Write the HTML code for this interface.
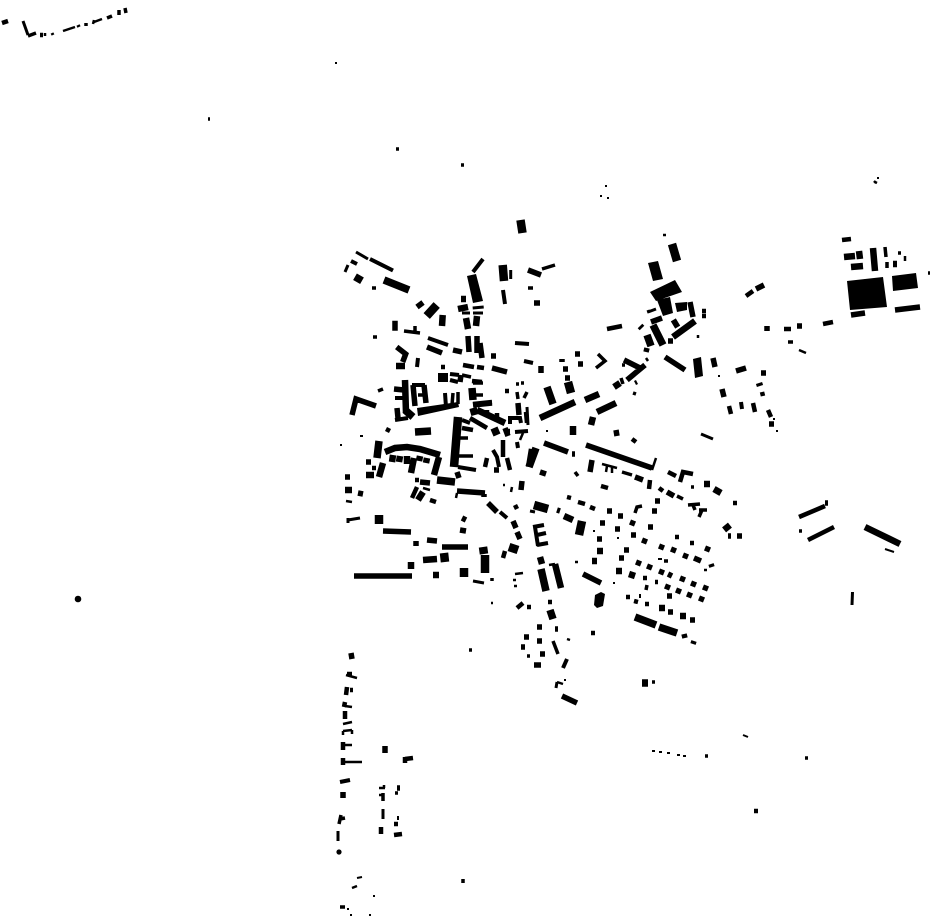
<!DOCTYPE html>
<html><head><meta charset="utf-8"><style>html,body{margin:0;padding:0;background:#fff}svg{display:block}path{fill:none;stroke:#000}path.f{fill:#000;stroke:none}</style></head>
<body><svg width="930" height="924" viewBox="0 0 930 924" xmlns="http://www.w3.org/2000/svg">
<path class="f" d="M467 276L476 274L482 297L483 301L473 303ZM648 263L658 261L663 279L653 281ZM650 292L675 280L682 292L656 301ZM657 300L670 297L673 313L663 316ZM675 303L687 302L687 310L677 312ZM693 359L701 357L703 376L695 378ZM847 281L883 277L887 307L850 310ZM892 276L916 273L918 288L893 291ZM595 595L601 592L605 594L603 606L597 608L594 605ZM417 408L458 402L459 407L418 416ZM438 373L448 373L448 382L438 382Z"/>
<circle cx="78" cy="599" r="3.3"/><circle cx="339" cy="852" r="2.6"/>
<path stroke-width="2" d="M335 63h2M605 186h2M600 196h2M607 198h2M877 178h2M340 445h2M593 531h2M613 583h2M546 431h2M360 436h3M658 559h4M640 594v4M718 376h2M497 458h2M776 431h2M773 419h2M357 878l5-1M347 909h2M350 915h2M369 915h2M373 896h2M652 751h3M659 752h3M667 753h3M677 755h3M683 756h3M743 735l5 2M885 549l9 3M617 538h2M564 680h2"/>
<path stroke-width="2.5" d="M346 675l11 3M345 706l7 1M343 724l9-2M344 745l8 0M343 762h19M379 788h6M384 785v3M379 795h5M352 888l5-2M343 731l9-1M343 731v4M352 730v4M63 31l12-4M93 24l1-4M94 22l8-3M45 33v3M704 570h3M423 488l7 2M346 501l6 1M602 464l15 4M607 466l-1 6M612 467v6M656 458l-4 12M575 562h3M567 639l3 1M457 493l-1 5M512 487l-1 5M503 485h2M549 565l6-1M513 580h3M514 586h3M491 603h2M557 682l6 2M799 350l7 3M905 256v5M875 182l2 1M698 335v3M646 358l2 3M663 235h3M874 181l2 2M515 574l8-1M525 412l1 11M523 433l-3 7"/>
<path stroke-width="3" d="M23 21l5 14M52 33l1 2M338 831v10M383 809v10M472.700 308l11-1M462 313h8M473 313h10M648 312l8-3M648 310l1 3M356 252l12 7M345 272l3-7M556 688l1-6M701 434l12 5M852.500 592l-.5 13M510.700 270v9M473 581l11 2M530 511l5 1M348 520l12-2M348 518v5M527 407l1 18"/>
<path stroke-width="3.500" d="M341 815l-2 9M340 819l5-1M340 907h5M395 793h3M373 337h4M372 288h4M378 391l5-2M28 36l8-3M78 25l1 2M86 23l0 3M107 18l5-2M119 15v-5M126 13l-1-5M404 331l16 2M415 326v6M516 384h3M521 383h3M517 392l1 7M527 392l-3 6M453 393l-1 12M458 392v12M598 354l7 7-9 7M621 378l2 6M575 472l3 4M633 393l3 1M885 247l1 10M887 262v6M898 253h3M928 273h3M788 342h5M542 269l13-4M528 288h5M622 365h3M691 487h3M688 505l12-1M693 505l2 5M702 510l-3 7M699 510h8M635 513l2-6 5-1M677 496l6 3M622 472l10 3M664 561h4M652 682h3M553 641l5 13M396 149h3M208 119h2M461 165h3M469 650h3M805 758h3M705 756h3M492 578v3M463 879v4M383 801v-8M527 656h3M647 585l-1 5M799 531h3M418 395h6M460 438h8M457 456h16M472 395h11M473 383h10M462 375l9 2M458 380h0"/>
<path stroke-width="4" d="M340 782l10-2M428 338l20 7M417 367l1-9M524 361l9 2M567 659l-4 9M397 818h2M515 343l14 1M741 402l1 7M351 261l6 3M370 259l23 11.500M473 272l10-13M503 290l2 14M450 374l9 1M450 380l8 2M412 385h13M445 393l1 14M510 424v-6h10l1 5M515 432l13-1M493 450l4 7 2 10M517 442l1 6M395 398h10M395 420l13-2"/>
<path stroke-width="4.500" d="M347 674h5M347 687l-1 8M350 690h3M345 702l-1 5M345 711v8M343 742v8M343 758v7M405 757l0 6M405 759l8-1M394 824h4M394 835l8-1M381 827v7M40 35h3M2 23l6-2M463 365l11 2M477 367l7 1M441 367h4M505 391h4M487 458l-2 9M503 440v17M507 458l3 12M430 500l6 2M415 480h4M386 429l4 2M417 487l-5 11M372 468h4M515 505l2 4M472 381l10 1M473 404l19-2M497 413v9M487 410v7M578 502l7 2M590 507l5 2M567 497l4 1M632 439l4 3M649 489l1-9M659 488l4 3M668 472l8 4M680 482l3-10 10 2M733 503h4M626 597h4M634 601l4 1M645 604h4M655 582h3M643 578h4M675 537h4M690 543h4M548 602h4M591 633h4M607 329l15-3M702 311h4M702 316h4M635 383l2-1M746 296l7-5M768 410l3 7M729 406l2 8M753 403l2 9M762 392l1 4M823 324l10-2M784 329h7M799 517l26-11M808 540l26-13M842 240l9-1M754 811h4M527 607h4M517 608l6-5M505 551l-2 7M565 378h0M601 486l7 2M462 428l11 2M470 418l17 10"/>
<path stroke-width="5.500" d="M351 653l1 6M385 746v7M397 788h3M343 792v6M352 415l4-16 20 7M396.700 347l9 7-3 8M395 320.700v10M417 307l6-4.500M394 389l10 1M397 408l1 10M413 385l2 21M424 385l2 18M427 347l15 6M468 336l1 16M477 336v17M480 343l2 15M518 403l1 12M492 368l15 4M461 375l-1 7M453 350l9 2M491 356h5M534 303h6M528 270l13 5M541 366v7M366 462h5M345 477h5M358 493l5 1M460 530l6 1M462 518l4 2M427 540l10 1M442 547l26 0M383 531l28 1M354 576l58 0M416 541v5M457 491l28 2M484 494v3M420 482l10 1M488 503l9 9M513 521l3 7M517 532l3 7M522 481l-1 9M457 472l2 6M544 443l24 9M572 454h3M635 477l8 3M667 492l7 4M713 358l2 9M722 389l2 8M736 371l10-3M761 373h5M756 289l8-4M851 315l14-2M895 310l25-3M592 460l-2 12M586 445l66 23M540 472l6 2M600 523h5M615 529h5M631 535h5M642 540l5 2M630 522l5 2M648 527h5M607 511h5M618 516h5M655 501h5M652 511h5M659 546l5 2M671 549l5 2M683 555l5 2M694 558l7 3M705 548l5 2M711 564l1 3M597 539h5M624 550h5M619 558h5M636 562l5 2M647 566l5 2M659 571l5 2M668 574l4 2M680 578l5 2M691 583l5 2M703 587l5 2M665 586l5 2M676 590l5 2M687 594l5 2M699 598l5 2M667 596h5M668 612h5M690 620h5M684 634l1 4M694 641l-1 3M583 574l18 9M562 696l15 7M555 629h3M537 627h5M537 641h5M524 637h5M521 647h4M534 665l7 0M540 654h5M562 359v3M563 369h5M565 378h5M575 354h5M578 364h5M665 357l20 13M645 365l-18 15M624 360l16 8M616 430l1 6M647 348l-1 4M651 322l11-4M668 341h5M690 302l3 15M767 326v5M797 326h5M825 503l3 0M737 536h5M728 536h3M769 424h5M557 510l3 1M473 405l19-2M494 470h5M505 428l3 8"/>
<path stroke-width="6.500" d="M505 432h5M532 449l-3 18M383 463l-4 14M423 492l-5 8M345 490h7M385 452l10-4 12-1 13 2 20 6M439 457l-5 18M442.700 315l-.7 11M477 316l-1 10M466 318l2 11M458 309l10-2M461 299h5M396 366h9M597 412l19-9M585 400l14-6M540 418l35-16M673 337l22-16M593 417l-2 8M573 426v9M540 557l2 7M555 564l6 24M597 551h6M592 561h5M616 571h6M629 574l6 2M659 608h6M680 616h6M564 516l9 4M873 248l2 23M859 251l1 8M844 257l11-1M851 267l12-1M893 264h4M865 527l35 17M759 383l1 3M640 326l2 2M704 484h6M714 489l7 4M423 560l14-1M433 575h6M411 562v7M366 475h5M614 387l6-4M405 380l1 33M393 455l-1 7M400 456l-1 6M407 456v8M420 456l-1 5M427 458l-1 5M414 458l-3 15M477 410l28 13M368 475h6"/>
<path stroke-width="7.500" d="M355 276.700l7 4M384 280l25 10M547 387l6 17M653 325l10 20M647 335l4 11M541 569l5 22M550 610l3 9M642 683l6 0M635 617l21 8M659 627l18 6M725 525l4 5M494 428l3 7M415 432l16-1M437 480l18 2M379 441l-2 17M473 408l2 7M405 410l8 7M472 388l1 12M536 448l-7 19"/>
<path stroke-width="8.500" d="M520.500 220l2 13M502.700 265l1.300 16M672 244l5 17M426.700 316l10-11M379 515v9M444 553l1 9M464 568v9M483 547l1 7M534 505l14 4M509 547l9 3M579 535l3-14M678 322l-5 3M458 417l-4 50M568 382l3 11M485 555v18"/>
<path stroke-width="4" d="M533 527l11-2M537 535l9-2M537 545l11-2M535 527l3 19M458 467l18 3M500 512l7 6M462 420l8 3"/>
<path stroke-width="1" stroke="#666" d="M865 279l3 29"/>
</svg></body></html>
